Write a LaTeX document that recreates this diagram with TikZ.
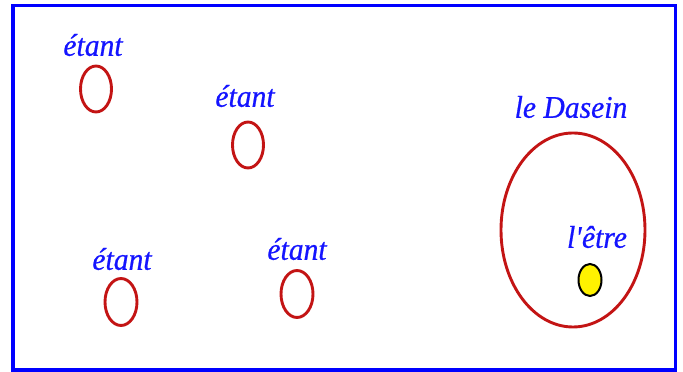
\documentclass[tikz,border=0pt]{standalone}
\usepackage{fontspec}
\setmainfont{Liberation Serif}
\newfontfamily\labfont[FakeStretch=0.94,FakeBold=0.6]{Liberation Serif}
\definecolor{ringred}{RGB}{195,20,20}
\definecolor{txtblue}{RGB}{20,20,255}
\begin{document}
\begin{tikzpicture}[x=1pt,y=1pt,
  lab/.style={text=txtblue,font=\labfont\fontsize{31.5}{34}\selectfont\itshape,inner sep=0pt},
  ring/.style={draw=ringred,line width=2.9pt}]
\useasboundingbox (0,0) rectangle (683,372);
\draw[blue,line width=3.5pt] (13,2) rectangle (675.5,366.5);
% small etants
\draw[ring] (96,283) ellipse [x radius=15.5,y radius=23];
\node[lab] (t1) at (93,327) {étant};
\draw[ring] (248,227) ellipse [x radius=15.5,y radius=23];
\node[lab] (t2) at (245,276) {étant};
\draw[ring] (121,70) ellipse [x radius=16,y radius=23.5];
\node[lab] (t3) at (122,113) {étant};
\draw[ring] (297,78) ellipse [x radius=16,y radius=23.5];
\node[lab] (t4) at (297,123) {étant};
% Dasein
\draw[ring] (573,142) ellipse [x radius=72,y radius=97];
\node[lab] (d) at (571,265) {le Dasein};
\node[lab] (etre) at (597,135) {l\textquotesingle être};
\draw[fill=yellow,draw=black,line width=2pt] (590,92) ellipse [x radius=11.5,y radius=16];
\end{tikzpicture}
\end{document}
